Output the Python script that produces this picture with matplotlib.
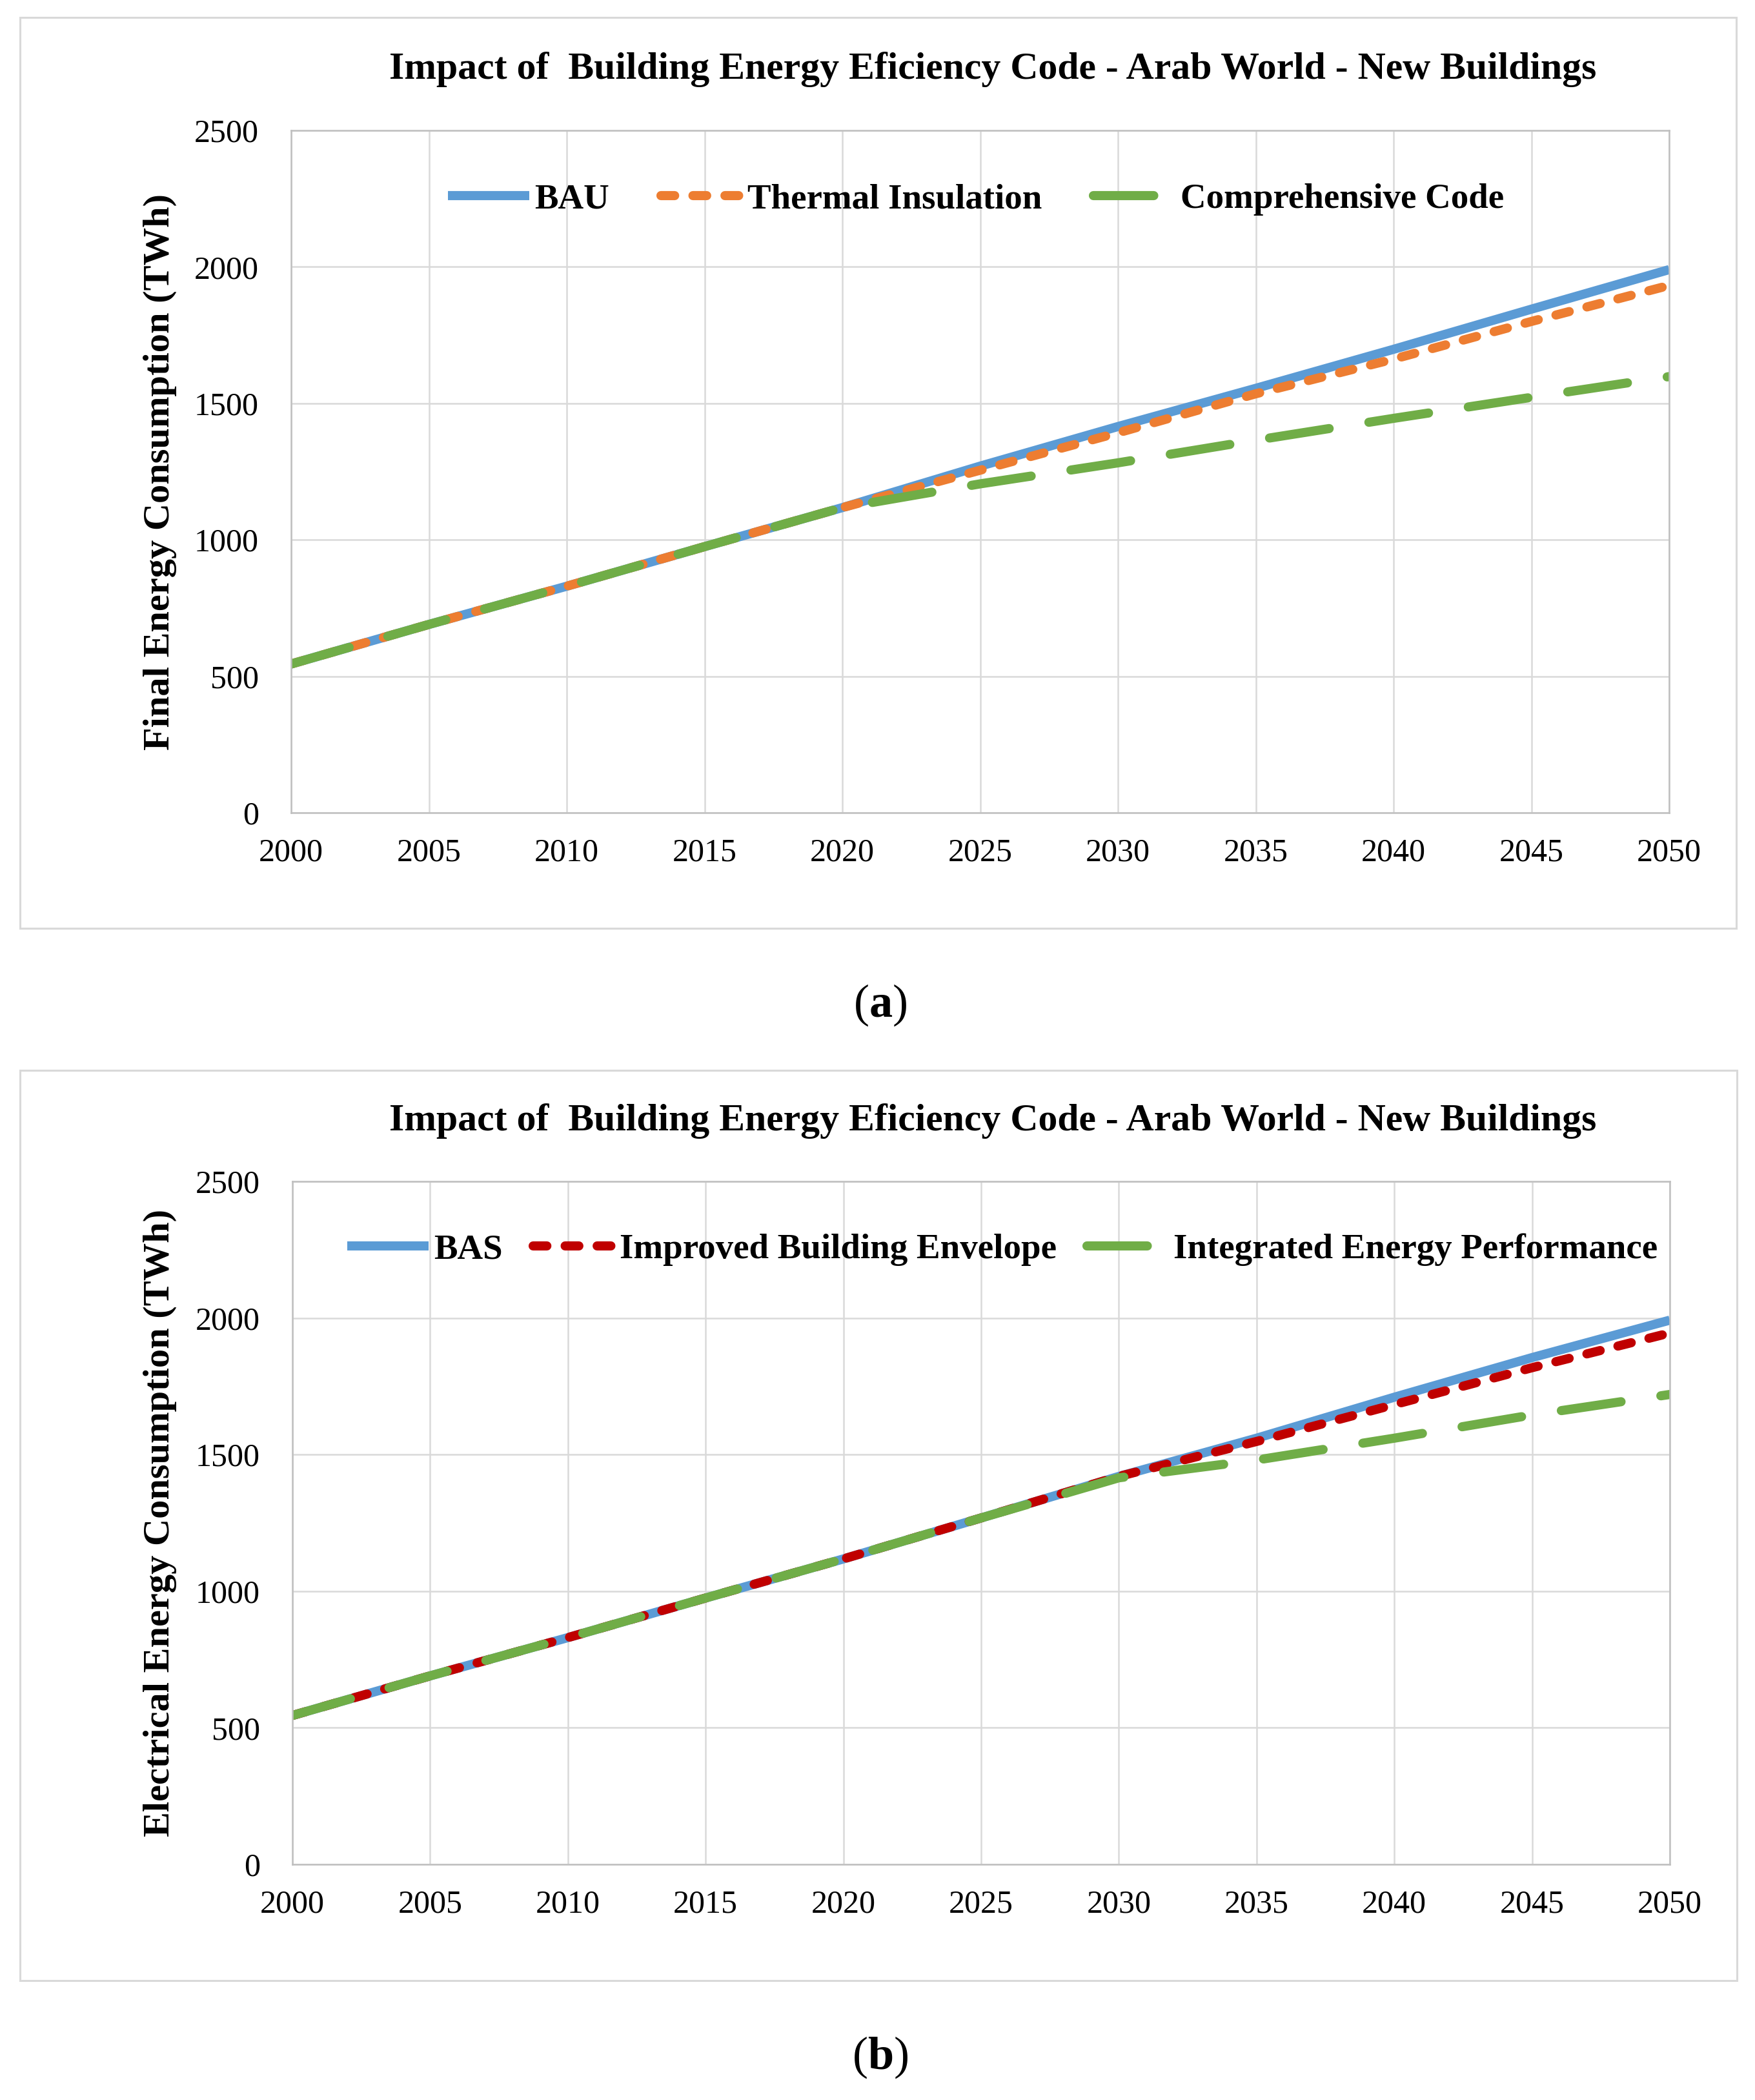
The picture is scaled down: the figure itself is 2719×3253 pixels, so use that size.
import numpy as np
from matplotlib import pyplot as plt
from matplotlib.patches import Rectangle

# data (TWh)
years = [2000, 2005, 2010, 2015, 2020, 2025, 2030, 2035, 2040, 2045, 2050]

bau = [545, 690, 830, 975, 1118, 1270, 1415, 1555, 1698, 1845, 1990]
thermal = [545, 690, 830, 975, 1118, 1255, 1392, 1535, 1662, 1800, 1932]
comprehensive = [545, 690, 830, 975, 1118, 1205, 1282, 1365, 1445, 1522, 1598]

bas = [545, 690, 830, 975, 1118, 1268, 1420, 1560, 1710, 1855, 1992]
envelope = [545, 690, 830, 975, 1118, 1268, 1420, 1548, 1683, 1818, 1945]
integrated = [545, 690, 830, 975, 1118, 1268, 1415, 1480, 1560, 1645, 1720]

title = 'Impact of  Building Energy Eficiency Code - Arab World - New Buildings'

W, H = 2719, 3253
DPI = 100

plt.rcParams['font.family'] = ['Liberation Serif', 'DejaVu Serif']
plt.rcParams['mathtext.fontset'] = 'custom'
plt.rcParams['mathtext.rm'] = 'Liberation Serif'
plt.rcParams['mathtext.bf'] = 'Liberation Serif:bold'

fig = plt.figure(figsize=(W / DPI, H / DPI), dpi=DPI)


def px(x, y):
    return x / W, 1 - y / H


def panel(frame, box, title_y, legend_xy, ylabel, series, labels, colsp, caption, caption_y):
    # outer light grey frame of the chart
    fx0, fy0, fx1, fy1 = frame
    fig.add_artist(Rectangle(px(fx0, fy1), (fx1 - fx0) / W, (fy1 - fy0) / H,
                             transform=fig.transFigure, fill=False,
                             edgecolor='#d9d9d9', linewidth=2.2))
    x0, y0, x1, y1 = box
    ax = fig.add_axes([x0 / W, 1 - y1 / H, (x1 - x0) / W, (y1 - y0) / H])

    styles = [
        dict(linestyle='-', solid_capstyle='butt'),
        dict(linestyle=(0, (1.5, 2.0)), dash_capstyle='round'),
        dict(linestyle=(0, (6.6, 4.4)), dash_capstyle='round'),
    ]
    handles = []
    for (vals, col), st, lab in zip(series, styles, labels):
        h, = ax.plot(years, vals, linewidth=10.2, color=col, label=lab, **st)
        handles.append(h)

    ax.set_xlim(2000, 2050)
    ax.set_ylim(0, 2500)
    ax.set_xticks(np.arange(2000, 2051, 5))
    ax.set_yticks(np.arange(0, 2501, 500))
    ax.grid(True, color='#d9d9d9', linewidth=1.8)
    ax.set_axisbelow(True)
    for s in ax.spines.values():
        s.set_color('#bfbfbf')
        s.set_linewidth(1.8)
    ax.tick_params(length=0, labelsize=36)
    ax.tick_params(axis='x', pad=28)
    ax.tick_params(axis='y', pad=36)

    fig.text(*px(248, (y0 + y1) / 2), ylabel, rotation=90, ha='center', va='center',
             fontsize=42, fontweight='bold')
    fig.text(*px(1538, title_y), title, ha='center', va='center',
             fontsize=43, fontweight='bold')
    lx, ly = legend_xy
    ax.legend(handles=handles, loc='center', ncol=3, frameon=False,
              bbox_to_anchor=((lx - x0) / (x1 - x0), 1 - (ly - y0) / (y1 - y0)),
              prop={'size': 39.5, 'weight': 'bold'}, handlelength=2.3,
              handletextpad=0.15, columnspacing=colsp)
    fig.text(*px(1364, caption_y), caption, ha='center', va='center', fontsize=52)
    return ax


panel((31, 27, 2690, 1438), (451, 202, 2586, 1259), 108, (1512, 309),
      'Final Energy Consumption (TWh)',
      [(bau, '#5b9bd5'), (thermal, '#ed7d31'), (comprehensive, '#70ad47')],
      ['BAU', 'Thermal Insulation', 'Comprehensive Code'], 1.45,
      r'($\mathbf{a}$)', 1557)

panel((31, 1658, 2691, 3068), (453, 1830, 2587, 2888), 1737, (1553, 1936),
      'Electrical Energy Consumption (TWh)',
      [(bas, '#5b9bd5'), (envelope, '#c00000'), (integrated, '#70ad47')],
      ['BAS', 'Improved Building Envelope', 'Integrated Energy Performance'], 0.85,
      r'($\mathbf{b}$)', 3187)

fig.savefig('out.png', dpi=DPI)
